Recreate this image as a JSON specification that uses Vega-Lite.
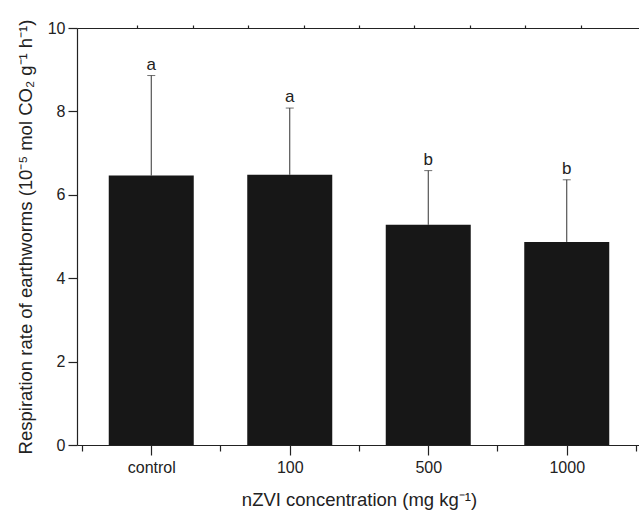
{
  "$schema": "https://vega.github.io/schema/vega-lite/v6.json",
  "width": 564,
  "height": 417,
  "autosize": "none",
  "padding": {"left": 77, "top": 28, "right": 0, "bottom": 66},
  "background": "white",
  "config": {
    "view": {"stroke": null},
    "font": "Liberation Sans",
    "axis": {
      "domainColor": "#222", "tickColor": "#222", "labelColor": "#222", "titleColor": "#222",
      "labelFont": "Liberation Sans", "titleFont": "Liberation Sans",
      "labelFontWeight": "normal", "titleFontWeight": "normal", "grid": false,
      "domainWidth": 1.2, "tickWidth": 1.2
    }
  },
  "data": {
    "values": [
      {"group": "control", "pos": 1, "mean": 6.46, "upper": 8.86, "letter": "a"},
      {"group": "100", "pos": 2, "mean": 6.48, "upper": 8.08, "letter": "a"},
      {"group": "500", "pos": 3, "mean": 5.28, "upper": 6.58, "letter": "b"},
      {"group": "1000", "pos": 4, "mean": 4.87, "upper": 6.36, "letter": "b"}
    ]
  },
  "resolve": {"axis": {"x": "independent", "y": "independent"}},
  "layer": [
    {
      "mark": {"type": "bar", "size": 85, "color": "#171717"},
      "encoding": {
        "x": {
          "field": "pos", "type": "quantitative",
          "scale": {"domain": [0.5, 4.5], "nice": false, "zero": false},
          "axis": {
            "orient": "bottom", "values": [1, 2, 3, 4],
            "labelExpr": "datum.value == 1 ? 'control' : datum.value == 2 ? '100' : datum.value == 3 ? '500' : '1000'",
            "tickSize": 10, "labelPadding": 4, "labelFontSize": 16,
            "title": "nZVI concentration (mg kg⁻¹)", "titleFontSize": 18.5, "titlePadding": 15
          }
        },
        "y": {
          "field": "mean", "type": "quantitative",
          "scale": {"domain": [0, 10], "nice": false},
          "axis": {
            "values": [0, 2, 4, 6, 8, 10], "tickSize": 9, "labelPadding": 3, "labelFontSize": 16,
            "title": "Respiration rate of earthworms (10⁻⁵ mol CO₂ g⁻¹ h⁻¹)",
            "titleFontSize": 18.5, "titleX": -52, "titleBaseline": "middle"
          }
        }
      }
    },
    {
      "mark": {"type": "rule", "color": "#333", "strokeWidth": 1},
      "encoding": {
        "x": {
          "field": "pos", "type": "quantitative",
          "axis": {"orient": "bottom", "values": [0.5, 1.5, 2.5, 3.5, 4.5], "labels": false, "tickSize": 6, "domain": false, "title": null}
        },
        "y": {"field": "mean", "type": "quantitative", "axis": null},
        "y2": {"field": "upper"}
      }
    },
    {
      "mark": {"type": "tick", "orient": "horizontal", "size": 8, "thickness": 1, "color": "#333"},
      "encoding": {
        "x": {
          "field": "pos", "type": "quantitative",
          "axis": {"orient": "top", "values": [0.9, 1.3, 1.7, 2.1, 2.5, 2.9, 3.3, 3.7, 4.1], "labels": false, "tickSize": 3, "title": null}
        },
        "y": {"field": "upper", "type": "quantitative", "axis": null}
      }
    },
    {
      "mark": {"type": "text", "baseline": "bottom", "dy": -2, "fontSize": 17, "color": "#222"},
      "encoding": {
        "x": {"field": "pos", "type": "quantitative", "axis": null},
        "y": {"field": "upper", "type": "quantitative", "axis": null},
        "text": {"field": "letter"}
      }
    }
  ]
}
